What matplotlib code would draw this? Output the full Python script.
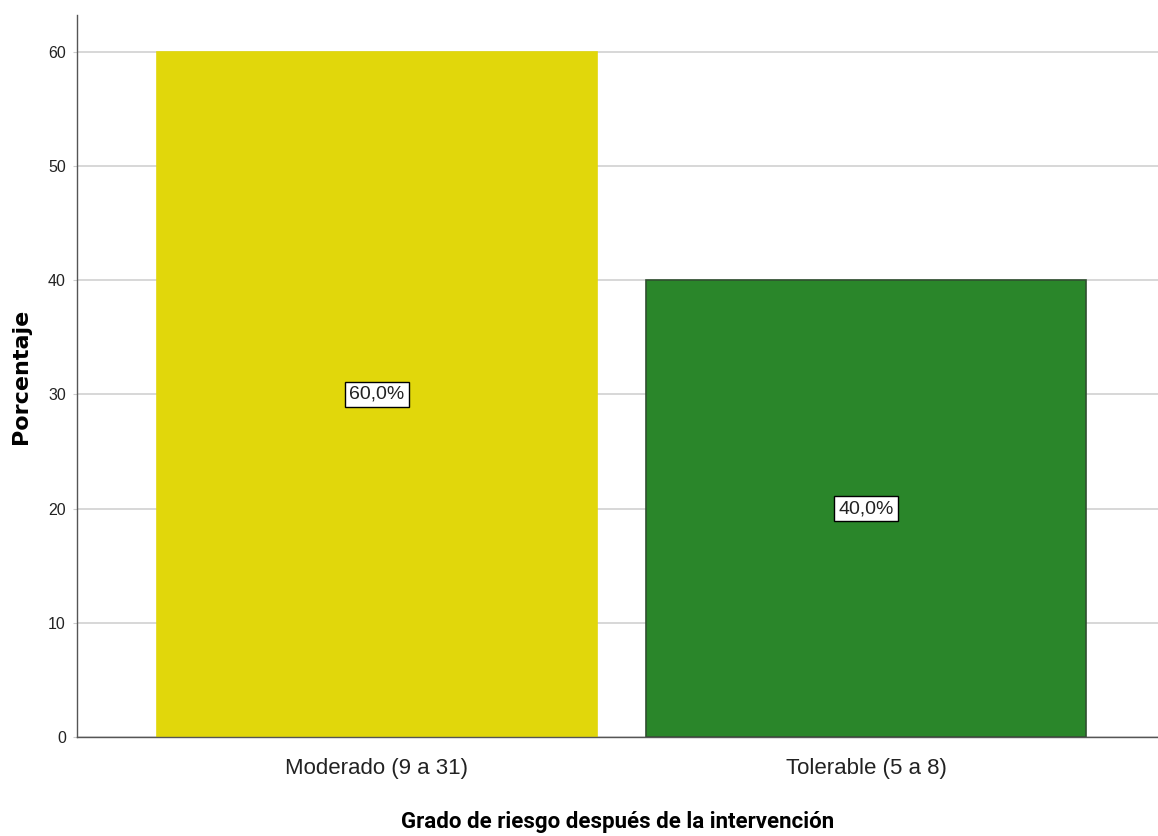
import matplotlib

matplotlib.use("Agg")
import matplotlib.pyplot as plt
import numpy as np

categories = ["Moderado (9 a 31)", "Tolerable (5 a 8)"]
percentages = [60.0, 40.0]
bar_colors = ["#e1d70b", "#2a862a"]
edge_colors = ["#e1d70b", "#2f4f2f"]
y_ticks = [0, 10, 20, 30, 40, 50, 60]

plt.rcParams["font.family"] = ["Liberation Sans", "DejaVu Sans"]

fig = plt.figure(figsize=(11.58, 8.36), dpi=100)
ax = fig.add_axes([0.0665, 0.1184, 0.9335, 0.8636])

x = np.arange(len(categories))
ax.bar(x, percentages, width=0.899, color=bar_colors, edgecolor=edge_colors,
       linewidth=1.2, zorder=3)

for xi, value in zip(x, percentages):
    ax.text(xi, value / 2, f"{value:.1f}%".replace(".", ","), ha="center", va="center",
            fontsize=14, color="#222222", zorder=4,
            bbox={"boxstyle": "square,pad=0.22", "facecolor": "white",
                  "edgecolor": "black", "linewidth": 1.0})

ax.set_xlim(-0.613, 1.596)
ax.set_ylim(0, 63.2)
ax.set_yticks(y_ticks)
ax.set_yticklabels([str(t) for t in y_ticks], fontsize=11.5, color="#222222")
ax.set_xticks(x)
ax.set_xticklabels(categories, fontsize=16, color="#222222")
ax.tick_params(axis="x", length=0, pad=15)
ax.tick_params(axis="y", length=3, width=0.8, color="#cccccc", pad=5)
ax.grid(axis="y", color="#d4d4d4", linewidth=1.3, zorder=0)

for side in ["top", "right"]:
    ax.spines[side].set_visible(False)
for side in ["left", "bottom"]:
    ax.spines[side].set_color("#555555")
    ax.spines[side].set_linewidth(1.0)
    ax.spines[side].set_zorder(5)

ax.set_ylabel("Porcentaje", fontsize=16, fontweight="bold",
              family=["DejaVu Sans"], labelpad=12)
ax.set_xlabel("Grado de riesgo después de la intervención", fontsize=16,
              fontweight="bold", family=["Roboto", "DejaVu Sans"])
ax.xaxis.set_label_coords(0.5, -0.118)
ax.xaxis.label.set_va("center")

fig.savefig("out.png", dpi=100)
plt.close(fig)
